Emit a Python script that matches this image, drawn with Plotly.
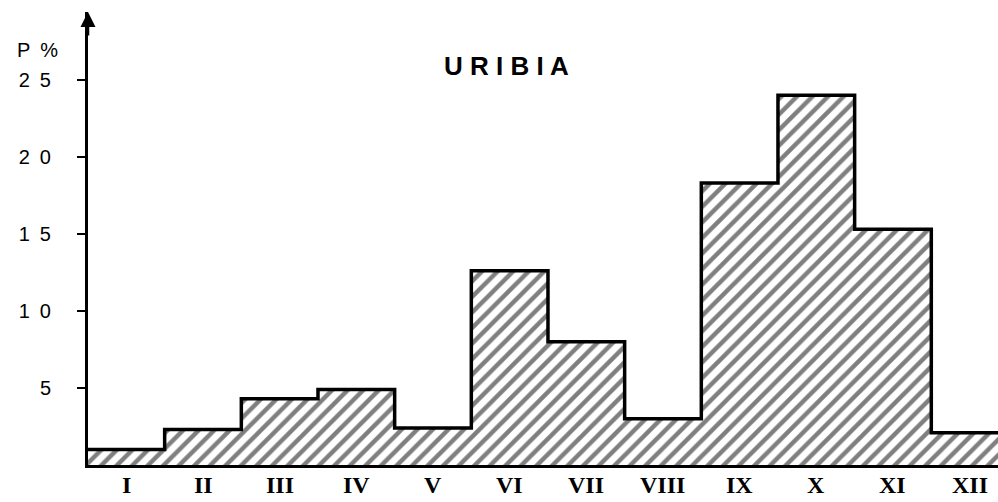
import plotly.graph_objects as go

# monthly percentages
months = [1, 2, 3, 4, 5, 6, 7, 8, 9, 10, 11, 12]
month_labels = ["I", "II", "III", "IV", "V", "VI", "VII", "VIII", "IX", "X", "XI", "XII"]
p_values = [1.0, 2.3, 4.3, 4.9, 2.4, 12.6, 8.0, 3.0, 18.3, 24.0, 15.3, 2.1]

y_tickvals = [5, 10, 15, 20, 25]
y_ticktext = ["5", "1\u20020", "1\u20025", "2\u20020", "2\u20025"]

W, H = 998, 502
L, R, T, B = 88, 0, 12, 502 - 465

fig = go.Figure()

# hatched bars (no outline, outline is drawn as step line)
fig.add_trace(go.Bar(
    x=months,
    y=p_values,
    width=1.0,
    marker=dict(
        color="white",
        line=dict(width=0),
        pattern=dict(shape="/", fgcolor="black", bgcolor="white", size=11, solidity=0.4),
    ),
    showlegend=False,
    hoverinfo="skip",
))

# step outline of the histogram
edges = [m - 0.5 for m in months] + [months[-1] + 0.5]
step_y = p_values + [p_values[-1]]
fig.add_trace(go.Scatter(
    x=edges,
    y=step_y,
    mode="lines",
    line=dict(color="black", width=3.5, shape="hv"),
    showlegend=False,
    hoverinfo="skip",
))


def px_to_paper(px, py):
    # pixel position in the picture -> paper coordinates of the plot area
    return (px - L) / (W - L - R), 1 - (py - T) / (H - T - B)


px_p, py_p = px_to_paper(37, 50)
px_t, py_t = px_to_paper(506, 66)

annotations = [
    # arrow head on the y axis
    dict(x=0, y=1, xref="paper", yref="paper", text="", showarrow=True,
         ax=0, ay=25, arrowhead=2, arrowsize=1.2, arrowwidth=2.5, arrowcolor="black"),
    dict(x=px_p, y=py_p, xref="paper", yref="paper", text="P\u2002%", showarrow=False,
         xanchor="center", yanchor="middle",
         font=dict(family="Liberation Sans", size=20, color="black")),
    dict(x=px_t, y=py_t, xref="paper", yref="paper", text="U R I B I A", showarrow=False,
         xanchor="center", yanchor="middle",
         font=dict(family="Liberation Sans", size=26, color="black", weight="bold")),
]
# month labels under the bars
for m, lab in zip(months, month_labels):
    annotations.append(dict(
        x=m, y=0, xref="x", yref="y", text=lab, showarrow=False,
        xanchor="center", yanchor="middle", yshift=-20,
        font=dict(family="Liberation Serif", size=24, color="black", weight="bold"),
    ))

fig.update_layout(
    width=W,
    height=H,
    margin=dict(l=L, r=R, t=T, b=B),
    paper_bgcolor="white",
    plot_bgcolor="white",
    bargap=0,
    xaxis=dict(
        range=[0.5, 12.37],
        showticklabels=False,
        ticks="",
        showgrid=False,
        zeroline=False,
        showline=True,
        linecolor="black",
        linewidth=3,
        automargin=False,
    ),
    yaxis=dict(
        range=[0, 29.4],
        tickvals=y_tickvals,
        ticktext=y_ticktext,
        ticks="outside",
        ticklen=8,
        tickwidth=2,
        tickcolor="black",
        showgrid=False,
        zeroline=False,
        showline=True,
        linecolor="black",
        linewidth=3,
        automargin=False,
        tickfont=dict(family="Liberation Sans", size=20, color="black"),
        ticklabelstandoff=22,
    ),
    annotations=annotations,
)

# drop the default page margin so the figure fills the window
fig.write_html(
    "out.html",
    config={"displayModeBar": False},
    post_script="document.body.style.margin='0';",
)
